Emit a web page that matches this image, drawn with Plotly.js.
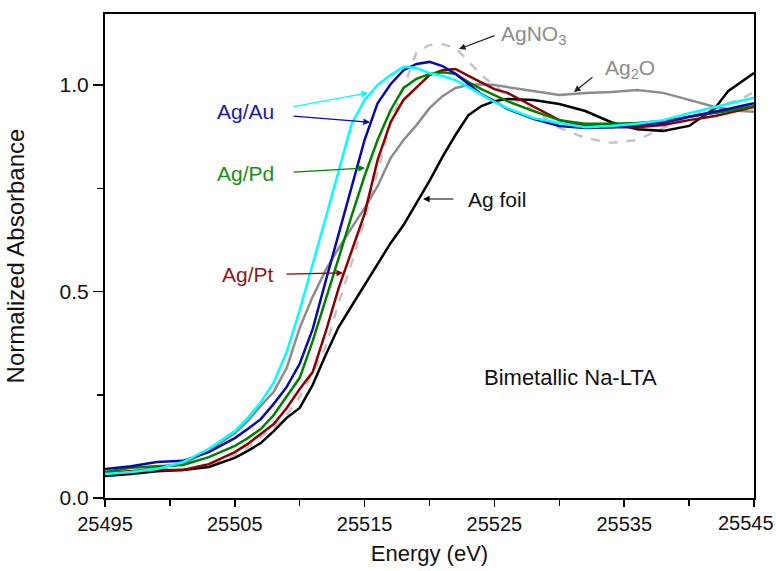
<!DOCTYPE html>
<html>
<head>
<meta charset="utf-8">
<script src="https://cdn.plot.ly/plotly-3.0.1.min.js"></script>
<style>html,body{margin:0;padding:0;background:#fff;}#plot{width:776px;height:571px;}</style>
</head>
<body>
<div id="plot"></div>
<script>
// Photon energy (eV)
const energy = [25495, 25497, 25499, 25501, 25503, 25505, 25506, 25507, 25508, 25509, 25510, 25511, 25512, 25513, 25514, 25515, 25516, 25517, 25518, 25519, 25520, 25521, 25522, 25523, 25524, 25525, 25526, 25528, 25530, 25532, 25534, 25536, 25538, 25540, 25542, 25543, 25544, 25545];

// Normalized absorbance of each sample
const agAuCyan = [0.058,0.063,0.070,0.087,0.119,0.162,0.194,0.232,0.280,0.354,0.455,0.564,0.678,0.792,0.906,0.964,1.000,1.024,1.044,1.041,1.029,1.022,1.012,0.995,0.976,0.959,0.944,0.920,0.908,0.898,0.901,0.906,0.915,0.932,0.947,0.954,0.961,0.969];
const agAuBlue = [0.070,0.077,0.087,0.090,0.111,0.145,0.167,0.191,0.228,0.269,0.325,0.409,0.525,0.639,0.753,0.867,0.956,1.002,1.036,1.051,1.056,1.046,1.027,1.002,0.978,0.961,0.942,0.918,0.901,0.896,0.898,0.903,0.908,0.923,0.935,0.942,0.949,0.956];
const agPd = [0.063,0.073,0.077,0.080,0.099,0.126,0.145,0.167,0.201,0.245,0.291,0.380,0.479,0.581,0.683,0.780,0.867,0.939,0.993,1.015,1.027,1.031,1.027,1.007,0.990,0.976,0.961,0.937,0.915,0.906,0.906,0.908,0.913,0.923,0.932,0.937,0.944,0.949];
const agPt = [0.060,0.065,0.068,0.068,0.082,0.111,0.131,0.155,0.179,0.218,0.264,0.305,0.402,0.508,0.600,0.688,0.818,0.910,0.964,0.995,1.024,1.036,1.039,1.022,1.005,0.990,0.981,0.947,0.915,0.901,0.898,0.898,0.903,0.915,0.925,0.932,0.939,0.947];
const agFoil = [0.053,0.058,0.065,0.068,0.075,0.097,0.114,0.133,0.162,0.194,0.218,0.274,0.346,0.414,0.465,0.516,0.567,0.617,0.661,0.714,0.768,0.826,0.879,0.927,0.949,0.961,0.966,0.964,0.954,0.937,0.910,0.893,0.889,0.901,0.944,0.985,1.007,1.029];
const ag2O = [0.060,0.065,0.073,0.082,0.114,0.157,0.186,0.223,0.257,0.315,0.412,0.487,0.552,0.605,0.654,0.702,0.755,0.823,0.867,0.903,0.944,0.973,0.993,1.000,1.002,1.000,0.995,0.985,0.976,0.981,0.983,0.988,0.981,0.964,0.947,0.942,0.937,0.935];
const agNO3 = [0.058,0.063,0.068,0.070,0.080,0.104,0.123,0.148,0.172,0.201,0.245,0.303,0.366,0.472,0.569,0.673,0.789,0.906,0.993,1.080,1.097,1.099,1.090,1.056,1.024,0.998,0.976,0.939,0.896,0.872,0.860,0.867,0.896,0.923,0.947,0.956,0.966,0.983];

const xTicks = [25495, 25505, 25515, 25525, 25535, 25545];
const yTicks = [0.0, 0.5, 1.0];

const FONT = '"Liberation Sans", Arial, sans-serif';

function line(y, color, dash) {
  return {x: energy, y: y, type: 'scatter', mode: 'lines',
    line: {color: color, width: 2.5, dash: dash || 'solid'},
    showlegend: false, hoverinfo: 'skip'};
}

const data = [
  line(agNO3, '#c4c4c4', 'dash'),
  line(ag2O, '#8c8c8c'),
  line(agFoil, '#000000'),
  line(agPt, '#8b0000'),
  line(agPd, '#008000'),
  line(agAuBlue, '#0a0aa8'),
  line(agAuCyan, '#00ffff')
];

function arrow(tx, ty, hx, hy, color) {
  return {x: hx, y: hy, ax: tx, ay: ty, xref: 'x', yref: 'y', axref: 'x', ayref: 'y',
    text: '', showarrow: true, arrowhead: 2, arrowsize: 1.1, arrowwidth: 1.2, arrowcolor: color};
}
function label(x, y, txt, color, xanchor, size) {
  return {x: x, y: y, xref: 'x', yref: 'y', text: txt, showarrow: false,
    xanchor: xanchor || 'center', yanchor: 'middle',
    font: {family: FONT, size: size || 21, color: color}};
}

const lastTick = xTicks[xTicks.length - 1];

const annotations = [
  label(25505.86, 0.937, 'Ag/Au', '#1a1aa6'),
  label(25505.86, 0.785, 'Ag/Pd', '#1a8c1a'),
  label(25506.02, 0.542, 'Ag/Pt', '#8b1a1a'),
  label(25525.20, 0.724, 'Ag foil', '#111111'),
  label(25525.35, 1.122, 'AgNO<sub>3</sub>', '#8c8c8c', 'left'),
  label(25535.45, 1.040, 'Ag<sub>2</sub>O', '#8c8c8c'),
  label(25530.90, 0.291, 'Bimetallic Na-LTA', '#111111', 'center', 22),
  arrow(25509.41, 0.947, 25515.26, 0.981, '#00ffff'),
  arrow(25509.41, 0.925, 25515.42, 0.910, '#0a0aa8'),
  arrow(25509.41, 0.789, 25515.03, 0.799, '#008000'),
  arrow(25508.87, 0.542, 25513.34, 0.545, '#8b0000'),
  arrow(25521.96, 0.724, 25519.50, 0.724, '#000000'),
  arrow(25525.12, 1.121, 25522.27, 1.087, '#222222'),
  arrow(25532.67, 1.022, 25531.13, 0.983, '#222222'),
  // last energy tick label, kept inside the picture's right edge
  {x: 1, y: 0, xref: 'paper', yref: 'paper', xshift: 22, yshift: -25,
   xanchor: 'right', yanchor: 'middle', showarrow: false, text: String(lastTick),
   font: {family: FONT, size: 20, color: '#111'}}
];

const layout = {
  width: 776, height: 571,
  margin: {l: 105, r: 22, t: 14, b: 73, pad: 0},
  paper_bgcolor: '#ffffff', plot_bgcolor: '#ffffff',
  font: {family: FONT, color: '#111111'},
  showlegend: false,
  xaxis: {
    range: [25495, 25545], tickvals: xTicks,
    ticktext: xTicks.map(v => v === lastTick ? '' : String(v)),
    ticks: 'outside', ticklen: 7, tickwidth: 1.5, tickcolor: '#000',
    minor: {tickvals: [25500, 25510, 25520, 25530, 25540], ticks: 'outside', ticklen: 6, tickwidth: 1.5, tickcolor: '#000'},
    showline: true, linecolor: '#000', linewidth: 2, mirror: true,
    showgrid: false, zeroline: false,
    tickfont: {family: FONT, size: 20, color: '#111'},
    title: {text: 'Energy (eV)', font: {family: FONT, size: 22, color: '#111'}, standoff: 12}
  },
  yaxis: {
    range: [0, 1.172], tickvals: yTicks, ticktext: yTicks.map(v => v.toFixed(1)),
    ticks: 'outside', ticklen: 10, tickwidth: 1.5, tickcolor: '#000',
    minor: {tickvals: [0.25, 0.75], ticks: 'outside', ticklen: 6, tickwidth: 1.5, tickcolor: '#000'},
    showline: true, linecolor: '#000', linewidth: 2, mirror: true,
    showgrid: false, zeroline: false,
    tickfont: {family: FONT, size: 21, color: '#111'},
    title: {text: 'Normalized Absorbance', font: {family: FONT, size: 24, color: '#111'}, standoff: 28}
  },
  annotations: annotations
};

Plotly.newPlot('plot', data, layout, {staticPlot: true, displayModeBar: false});
</script>
</body>
</html>
